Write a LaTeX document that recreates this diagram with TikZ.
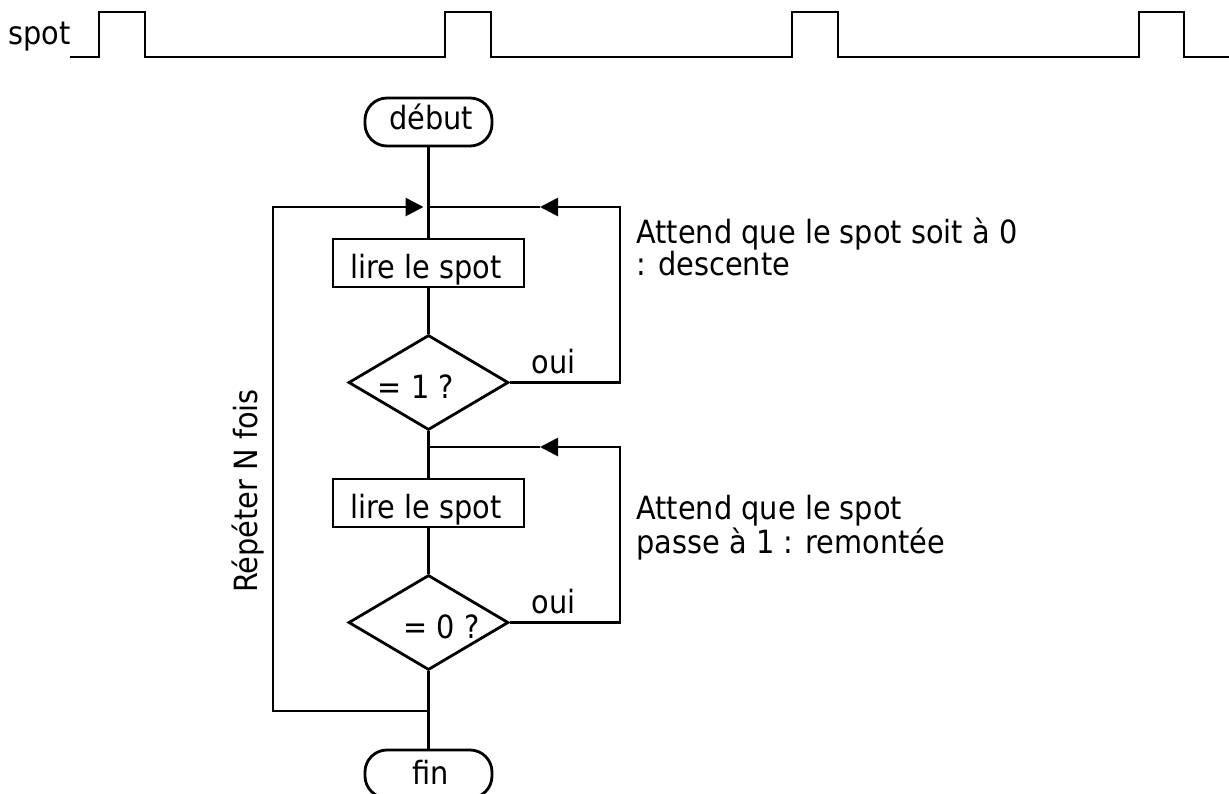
\documentclass[tikz,border=0pt]{standalone}
\usepackage{fontspec}
\setmainfont{DejaVu Sans}[FakeStretch=0.9]
\usetikzlibrary{arrows.meta,shapes.geometric}
\tikzset{
  txt/.style={font=\fontsize{32}{32}\selectfont, inner sep=0pt},
  term/.style={draw, rectangle, rounded corners=22pt, minimum width=127pt, minimum height=48pt, inner sep=0pt},
  proc/.style={draw, rectangle, minimum width=191pt, minimum height=48pt, inner sep=0pt},
  dec/.style={draw, diamond, minimum width=160pt, minimum height=95pt, inner sep=0pt},
  flow/.style={line width=2.8pt},
  tip/.style={-{Triangle[length=18pt,width=18pt]}},
  sig/.style={line width=2.8pt, line join=miter}
}
\begin{document}
\begin{tikzpicture}[x=1pt,y=-1pt, line width=2.8pt]
\useasboundingbox (0,0) rectangle (1229,793);
\clip (0,0) rectangle (1229,793);

% signal
\node[txt, anchor=base west] (spotlbl) at (7,44) {spot};
\draw[sig] (70,57) -- (99,57) -- (99,12) -- (145,12) -- (145,57) -- (445,57) -- (445,12) -- (491,12) -- (491,57) -- (792,57) -- (792,12) -- (838,12) -- (838,57) -- (1139,57) -- (1139,12) -- (1184,12) -- (1184,57) -- (1229,57);

% nodes
\node[term] (deb) at (428.5,122) {};
\node[txt, anchor=base] (debt) at (431,129) {début};
\node[proc] (b1) at (428.5,263) {};
\node[txt, anchor=base west] (b1t) at (349,278) {lire le spot};
\node[dec] (d1) at (428.5,382.5) {};
\node[txt, anchor=base] (d1t) at (416,398) {= 1 ?};
\node[proc] (b2) at (428.5,503) {};
\node[txt, anchor=base west] (b2t) at (349,518) {lire le spot};
\node[dec] (d2) at (428.5,622.5) {};
\node[txt, anchor=base] (d2t) at (441.5,638) {= 0 ?};
\node[term] (fin) at (428.5,774) {};
\node[txt, anchor=base] (fint) at (431,784) {fin};

% junctions
\coordinate (j1) at (428.5,207);
\coordinate (j2) at (428.5,447);
\coordinate (j3) at (428.5,711);
\coordinate (r1) at (620,207);
\coordinate (r2) at (620,447);
\coordinate (a1) at (540,207);
\coordinate (a2) at (540,447);
\coordinate (lb) at (273,711);
\coordinate (lt) at (273,207);

% main flow
\draw[flow] (deb) -- (b1);
\draw[flow] (b1) -- (d1);
\draw[flow] (d1) -- (b2);
\draw[flow] (b2) -- (d2);
\draw[flow] (d2) -- (fin);

% loops
\draw[flow, tip] (d1.east) -| (r1) -- (a1);
\draw[flow] (a1) -- (j1);
\draw[flow, tip] (d2.east) -| (r2) -- (a2);
\draw[flow] (a2) -- (j2);
\draw[flow, tip, shorten >=5pt] (j3) -- (lb) -- (lt) -- (j1);

% labels
\node[txt, anchor=base west] (oui1) at (530,373) {oui};
\node[txt, anchor=base west] (oui2) at (530,613) {oui};
\node[txt, anchor=base west, align=left, font=\fontsize{32}{32}\selectfont] (c1) at (635,275) {Attend que le spot soit à 0\\: descente};
\node[txt, anchor=base west, align=left, font=\fontsize{32}{31}\selectfont] (c2) at (635,553) {Attend que le spot\\passe à 1 : remontée};
\node[txt, rotate=90, anchor=base] (rep) at (257,491) {Répéter N fois};
\end{tikzpicture}
\end{document}
